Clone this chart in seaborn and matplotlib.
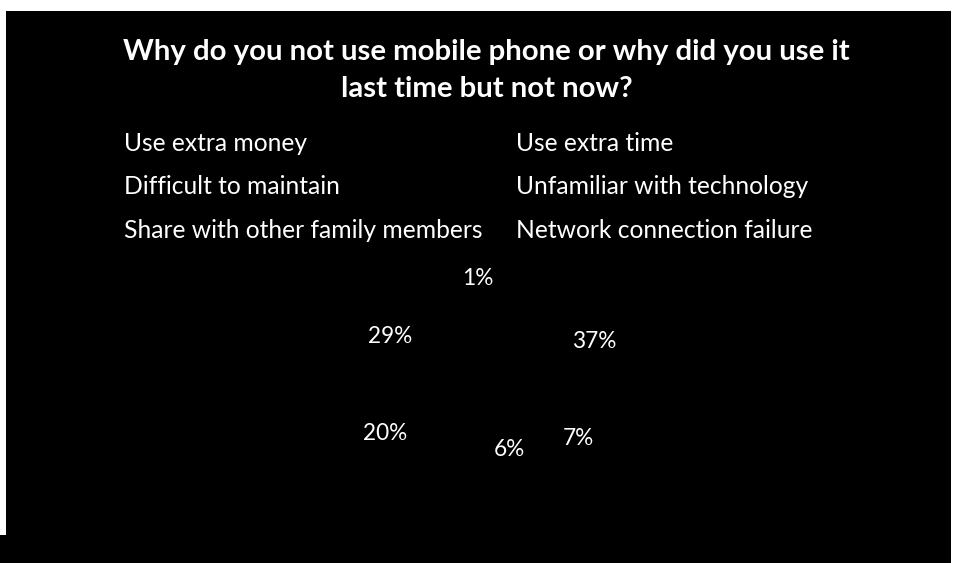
import numpy as np
import matplotlib
matplotlib.use("Agg")
import matplotlib.pyplot as plt
from matplotlib.patches import Rectangle
import seaborn as sns

# Survey reasons and their shares (percent)
categories = [
    "Use extra money",
    "Use extra time",
    "Difficult to maintain",
    "Unfamiliar with technology",
    "Share with other family members",
    "Network connection failure",
]
shares = [37, 7, 6, 20, 29, 1]
title = "Why do you not use mobile phone or why did you use it\nlast time but not now?"

# Label placement tweaks (radius as fraction of pie radius, angle nudge in degrees)
label_radius = [0.943, 0.827, 0.50, 0.815, 0.820, 0.862]
label_nudge = [0.2, -29.1, -13.7, 29.9, -4.2, -0.2]

sns.set_theme(style="white")
plt.rcParams["font.family"] = ["Lato", "DejaVu Sans"]

W, H = 954, 563
fig = plt.figure(figsize=(W / 100, H / 100), dpi=100)
fig.patch.set_facecolor("white")

# black slide background
fig.add_artist(Rectangle((6 / W, 0), (951 - 6) / W, (H - 11) / H,
                         transform=fig.transFigure, facecolor="black",
                         edgecolor="none", zorder=0))
fig.add_artist(Rectangle((0, 0), 6 / W, (H - 535) / H,
                         transform=fig.transFigure, facecolor="black",
                         edgecolor="none", zorder=0))

# title
fig.text(486.5 / W, 1 - 70.5 / H, title, ha="center", va="center",
         color="white", fontsize=21.2, fontweight="bold", linespacing=1.48)

# pie
cx, cy, R = 482, 390, 130
ax = fig.add_axes([(cx - R) / W, (H - cy - R) / H, 2 * R / W, 2 * R / H])
ax.set_facecolor("none")
colors = ["black"] * len(shares)
wedges, _ = ax.pie(shares, colors=colors, startangle=90, counterclock=False,
                   radius=1.0, wedgeprops=dict(edgecolor="black", linewidth=1))
ax.set_xlim(-1, 1)
ax.set_ylim(-1, 1)
ax.set_aspect("equal")
ax.axis("off")

total = float(sum(shares))
cum = np.cumsum([0] + shares[:-1])
for i, v in enumerate(shares):
    mid = (cum[i] + v / 2) / total * 360 + label_nudge[i]
    a = np.deg2rad(mid)
    r = label_radius[i]
    ax.text(r * np.sin(a), r * np.cos(a), f"{v / total * 100:.0f}%",
            ha="center", va="center", color="white", fontsize=16.3)

# legend (two columns, read row by row)
order = [0, 2, 4, 1, 3, 5]
leg = fig.legend([wedges[i] for i in order], [categories[i] for i in order],
                 ncol=2, loc="upper left",
                 bbox_to_anchor=(102 / W, 1 - 132 / H),
                 bbox_transform=fig.transFigure,
                 frameon=False, fontsize=17.7, labelcolor="white",
                 handlelength=0.6, handleheight=0.6, handletextpad=0.3,
                 columnspacing=0.47, labelspacing=0.83,
                 borderpad=0, borderaxespad=0)

fig.savefig("out.png", dpi=100, facecolor=fig.get_facecolor())
